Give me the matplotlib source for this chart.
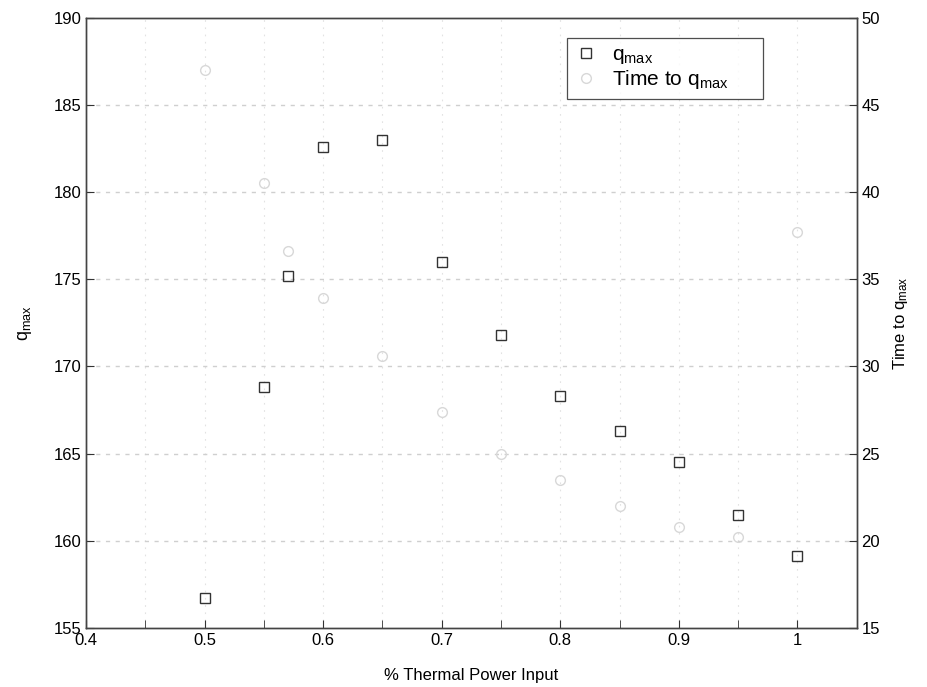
import matplotlib
matplotlib.use("Agg")
import matplotlib.pyplot as plt

plt.rcParams['font.family'] = ['Liberation Sans', 'DejaVu Sans']
plt.rcParams['mathtext.fontset'] = 'custom'
plt.rcParams['mathtext.rm'] = 'Liberation Sans'

# thermal power fraction vs. peak heat flux and time to reach it
power = [0.5, 0.55, 0.57, 0.6, 0.65, 0.7, 0.75, 0.8, 0.85, 0.9, 0.95, 1.0]
q_max = [156.7, 168.8, 175.2, 182.6, 183.0, 176.0, 171.8, 168.3, 166.3, 164.5, 161.5, 159.1]
t_qmax = [47.0, 40.5, 36.6, 33.9, 30.6, 27.4, 25.0, 23.5, 22.0, 20.8, 20.2, 37.7]

qlab = r'$\mathregular{q_{max}}$'

fig = plt.figure(figsize=(9.27, 6.87), dpi=100)
ax = fig.add_axes([0.093, 0.086, 0.831, 0.888])
ax2 = ax.twinx()

h1, = ax.plot(power, q_max, 's', ms=7, mfc='none', mec='#333333', mew=1.0, label=qlab)
h2, = ax2.plot(power, t_qmax, 'o', ms=7, mfc='none', mec='#d8d8d8', mew=1.0,
               label='Time to ' + qlab)

ax.set_xlim(0.4, 1.05)
ax.set_ylim(155, 190)
ax2.set_ylim(15, 50)
ax.set_xticks([0.4, 0.5, 0.6, 0.7, 0.8, 0.9, 1.0])
ax.set_xticklabels(['0.4', '0.5', '0.6', '0.7', '0.8', '0.9', '1'])
ax.set_xticks([0.45, 0.55, 0.65, 0.75, 0.85, 0.95], minor=True)
ax.set_yticks(range(155, 191, 5))
ax2.set_yticks(range(15, 51, 5))

# dotted grid, matlab style
for x in [0.45, 0.5, 0.55, 0.6, 0.65, 0.7, 0.75, 0.8, 0.85, 0.9, 0.95, 1.0]:
    ax.axvline(x, color='#e2e2e2', lw=0.8, ls=(0, (1.5, 5)), zorder=0)
for y in range(160, 190, 5):
    ax.axhline(y, color='#cfcfcf', lw=1.0, ls=(0, (3, 4)), zorder=0)

for a in (ax, ax2):
    a.tick_params(which='both', direction='in', labelsize=12, color='#333333')
    a.tick_params(which='both', length=6)
    for s in a.spines.values():
        s.set_color('#444444')
        s.set_linewidth(1.0)
ax.tick_params(axis='x', pad=4)

ax.set_xlabel('% Thermal Power Input', fontsize=12, labelpad=14)
ax.set_ylabel(qlab, fontsize=13, labelpad=14)
ax2.set_ylabel('Time to ' + qlab, fontsize=12, labelpad=8)

# fixed-width legend box
leg = ax.legend(handles=[h1, h2], loc='upper left', mode='expand',
                bbox_to_anchor=(0.624, 0.867, 0.254, 0.1),
                fontsize=15, frameon=True, fancybox=False, borderaxespad=0,
                handlelength=1.1, handletextpad=0.7, borderpad=0.35, labelspacing=0.1)
leg.get_frame().set_edgecolor('#222222')
leg.get_frame().set_linewidth(0.9)

fig.savefig('out.png', dpi=100)
